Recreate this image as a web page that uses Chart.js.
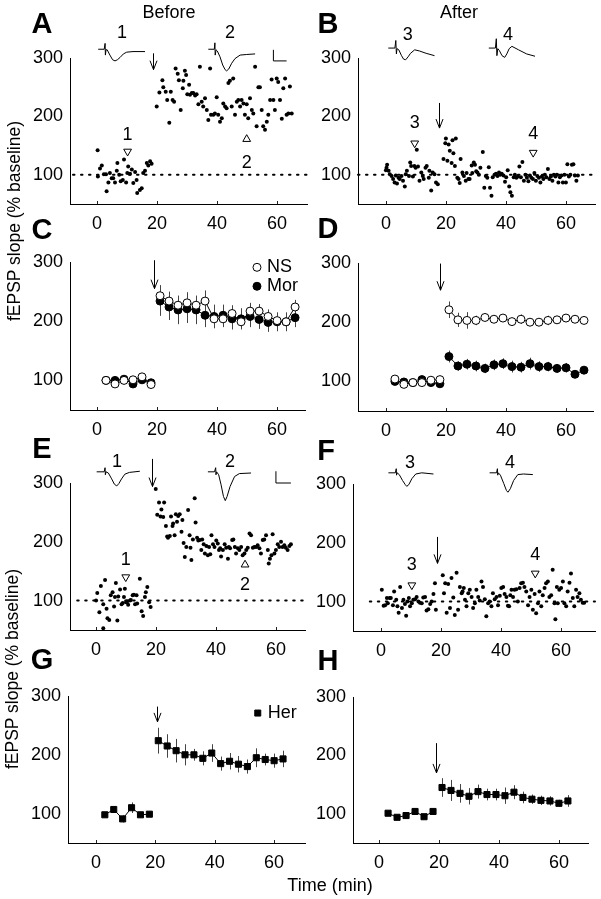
<!DOCTYPE html>
<html>
<head>
<meta charset="utf-8">
<script src="https://cdn.jsdelivr.net/npm/chart.js@4.4.1/dist/chart.umd.min.js"></script>
<style>
body { margin: 0; background: #fff; width: 601px; height: 899px; position: relative; overflow: hidden;
       font-family: "Liberation Sans", Arial, Helvetica, sans-serif; color: #000; }
canvas { position: absolute; left: 0; top: 0; }
.t { position: absolute; white-space: nowrap; transform: translate(-50%, -50%); line-height: 1; font-size: 18px; }
.lt { font-weight: bold; font-size: 29px; }
.rot { transform: translate(-50%, -50%) rotate(-90deg); font-size: 17.5px; }
</style>
</head>
<body>
<canvas id="cA" width="601" height="899"></canvas>
<canvas id="cB" width="601" height="899"></canvas>
<canvas id="cC" width="601" height="899"></canvas>
<canvas id="cD" width="601" height="899"></canvas>
<canvas id="cE" width="601" height="899"></canvas>
<canvas id="cF" width="601" height="899"></canvas>
<canvas id="cG" width="601" height="899"></canvas>
<canvas id="cH" width="601" height="899"></canvas>

<div class="t" style="left:169px;top:12px">Before</div>
<div class="t" style="left:459px;top:12px">After</div>
<div class="t lt" style="left:42px;top:23px">A</div>
<div class="t lt" style="left:328px;top:23px">B</div>
<div class="t lt" style="left:42px;top:229px">C</div>
<div class="t lt" style="left:328px;top:228px">D</div>
<div class="t lt" style="left:42px;top:448px">E</div>
<div class="t lt" style="left:326px;top:450px">F</div>
<div class="t lt" style="left:42px;top:659px">G</div>
<div class="t lt" style="left:328px;top:660px">H</div>
<div class="t rot" style="left:15px;top:221px">fEPSP slope (% baseline)</div>
<div class="t rot" style="left:13px;top:669px">fEPSP slope (% baseline)</div>
<div class="t" style="left:330px;top:885px">Time (min)</div>

<script>
// ---- data (minutes, % baseline) ----
const xTicks = [0, 20, 40, 60];
const yTicks = [100, 200, 300];

// A: single experiment, before
const aTime = [0.2,0.3,1.0,1.6,2.3,3.0,3.2,3.8,4.3,4.9,5.4,6.0,6.6,6.8,7.4,7.9,8.6,9.0,9.7,10.1,10.4,11.0,11.6,12.1,12.7,13.2,13.4,14.3,14.9,15.4,16.0,16.6,17.1,17.7,18.2,
  19.9,20.8,21.8,22.1,22.9,23.4,24.1,24.6,25.2,25.7,26.2,26.9,27.3,27.9,28.6,28.8,29.3,29.7,30.1,30.7,31.0,31.6,32.1,32.7,33.2,33.8,34.3,34.9,35.4,36.0,
  36.6,37.1,37.7,38.0,38.8,39.3,39.9,40.4,41.0,41.6,42.1,42.7,43.2,43.8,44.3,44.9,45.4,46.0,46.6,47.1,47.7,48.2,48.8,49.3,49.9,50.4,51.0,51.6,52.1,52.7,
  53.2,53.8,54.3,54.9,55.4,56.0,56.6,57.1,57.7,58.2,58.8,59.3,59.9,60.4,61.0,61.6,62.1,62.7,63.2,63.8,64.3,64.9];
const aSlope = [142,97,111,116,101,101,72,87,103,94,94,87,107,120,100,89,91,126,87,103,114,102,109,86,105,91,69,74,77,103,107,120,116,123,119,
  217,241,262,250,242,228,189,242,228,225,282,273,262,211,248,261,278,271,238,254,237,240,240,236,238,221,285,225,217,231,
  211,194,282,203,203,205,233,203,191,197,222,217,214,257,261,217,265,203,225,228,217,228,222,203,221,197,231,211,205,285,
  183,250,250,211,183,177,191,203,228,263,228,211,265,259,228,196,248,265,203,205,251,205];

// B: single experiment, after
const bTime = [0.0,0.2,0.4,0.9,1.3,1.9,2.4,2.9,3.3,3.7,4.2,4.6,5.2,5.7,6.3,6.6,7.0,7.7,8.1,8.4,9.0,9.5,9.9,10.3,10.7,11.2,11.8,12.3,12.6,13.2,13.6,14.3,14.5,15.1,15.6,16.2,16.7,17.3,
  19.2,19.8,20.0,20.5,20.9,21.3,21.9,22.2,22.5,23.0,23.3,23.8,24.2,24.6,24.9,25.5,26.0,26.6,26.9,27.5,27.9,28.6,28.8,29.3,29.7,30.1,
  30.5,31.0,31.5,32.3,32.8,33.3,33.8,34.3,34.7,35.2,35.6,36.2,36.7,37.2,37.7,38.1,38.6,39.2,39.7,40.1,40.6,41.1,41.5,42.0,42.6,43.0,43.5,44.0,44.5,45.0,
  45.5,46.0,46.5,47.0,47.5,48.0,48.5,49.0,49.5,50.0,50.5,51.0,51.5,52.0,52.5,53.0,53.5,54.0,54.5,55.0,55.5,56.0,56.5,57.0,57.5,58.0,58.5,59.0,59.5,60.0,
  60.5,61.0,61.5,62.0,62.5,63.0,63.5,64.0];
const bSlope = [108,112,117,107,101,98,93,87,99,85,95,93,98,90,80,101,107,98,121,115,97,115,112,143,114,90,104,98,93,112,115,95,107,73,104,101,87,84,
  127,154,162,124,152,141,120,159,137,115,162,95,93,86,127,104,98,90,103,93,93,116,103,121,117,106,
  104,100,112,139,78,98,95,113,78,64,96,100,102,98,104,100,102,99,88,96,108,80,70,64,96,100,95,97,114,96,
  122,90,100,95,89,99,95,93,103,90,98,95,87,97,93,100,96,110,93,97,90,100,97,100,87,96,99,87,100,87,
  118,97,100,117,118,99,90,99];

// C, D: group means every 3 min (NS vs Mor)
const cdTime = [3,6,9,12,15,18,21,24,27,30,33,36,39,42,45,48,51,54,57,60,63,66];
const cNS     = [100,94,100,101,106,93,243,234,227,231,227,234,204,204,213,199,217,217,208,201,199,224];
const cNSerr  = [3,3,3,3,3,3,18,16,16,18,16,18,14,14,14,12,14,12,12,12,12,12];
const cMor    = [100,100,102,94,101,96,234,224,219,221,219,210,208,210,204,204,208,203,198,199,199,206];
const cMorErr = [3,3,3,3,3,3,25,22,24,24,24,20,20,18,18,18,18,16,16,16,16,16];
const dNS     = [104,95,98,98,102,103,221,204,203,203,208,205,207,201,205,200,200,203,204,207,205,203];
const dNSerr  = [3,3,3,3,3,3,14,12,14,8,6,5,5,6,8,5,5,8,6,6,5,5];
const dMor    = [100,99,98,103,98,96,142,126,129,126,122,128,130,125,124,130,125,125,122,123,112,119];
const dMorErr = [3,3,3,3,3,3,10,8,9,9,8,9,9,10,9,10,9,8,7,8,6,6];

// E: single experiment, before (heroin group)
const eTime = [0.0,0.4,1.1,1.6,2.4,2.4,3.0,3.5,3.8,4.4,4.9,5.5,6.0,6.3,6.6,7.1,7.4,8.0,8.5,8.9,9.3,9.6,10.0,10.4,10.7,11.3,11.6,12.2,12.6,13.0,13.5,13.7,14.6,15.2,15.7,16.3,16.6,17.1,17.7,18.2,
  19.9,20.4,21.0,21.5,21.8,22.4,22.7,23.3,23.7,24.0,24.6,25.0,25.5,25.7,26.2,26.6,27.0,27.4,27.9,28.5,28.8,29.2,29.6,30.1,30.7,31.2,31.5,31.8,32.3,32.9,
  33.2,33.7,34.1,34.6,35.1,35.4,35.9,36.3,36.8,37.3,37.7,38.1,38.5,39.0,39.5,40.1,40.6,41.0,41.4,41.7,42.3,42.9,43.4,44.0,44.3,44.7,45.4,45.8,46.3,46.7,
  47.3,47.8,48.4,48.9,49.5,50.1,50.6,51.2,51.7,52.3,52.8,53.4,53.9,54.5,55.0,55.6,56.1,56.7,57.3,57.6,58.0,58.5,58.9,59.5,60.0,60.6,61.1,61.7,62.2,62.8,
  63.3,63.9,64.5,65.0];
const eSlope = [100,113,80,125,94,53,135,86,70,67,109,114,90,106,130,66,107,119,94,96,106,120,97,99,93,100,101,109,110,94,109,95,137,82,74,106,114,123,97,89,
  290,246,267,243,255,242,267,227,209,207,210,243,227,231,211,247,234,244,247,217,237,198,174,191,254,211,190,169,204,274,
  233,207,202,203,186,204,196,180,193,177,191,179,211,196,191,202,197,186,189,175,186,196,190,171,191,189,203,204,191,180,
  189,186,191,177,180,186,190,214,211,190,191,191,194,189,180,203,204,211,186,163,171,177,213,180,186,196,191,200,191,194,
  190,186,193,196];

// F: single experiment, after (heroin group)
const fTime = [0.3,0.9,1.4,2.0,2.3,2.9,3.3,4.0,4.4,5.1,5.5,5.9,6.4,7.0,7.5,8.0,8.4,8.8,9.3,9.7,10.3,10.8,11.4,11.9,12.5,13.0,13.6,14.1,14.7,15.2,15.8,16.4,16.9,17.5,18.0,18.3,
  20.6,21.0,21.4,21.9,22.4,23.0,23.5,24.1,24.6,25.2,25.7,26.3,26.9,27.2,27.6,28.0,28.5,29.1,29.6,30.2,30.7,31.3,31.8,32.4,32.9,33.5,34.0,34.6,35.1,35.7,
  36.2,36.8,37.3,37.9,38.5,39.0,39.6,40.1,40.7,41.2,41.8,42.3,42.7,43.1,43.5,44.0,44.5,45.1,45.6,46.2,46.7,47.3,47.8,48.4,49.0,49.5,50.1,50.6,51.2,51.7,
  52.3,52.8,53.4,53.9,54.5,55.0,55.6,56.1,56.7,57.2,57.8,58.1,58.6,58.9,59.4,60.0,60.6,61.1,61.7,62.2,62.8,63.3,63.9,64.4,65.0,65.5,66.1,66.6,67.2,67.7];
const fSlope = [120,93,94,106,97,106,106,94,117,103,92,81,125,89,103,96,76,100,106,92,97,103,104,108,100,98,97,107,108,85,87,96,100,113,131,86,
  145,114,131,81,130,89,140,107,77,149,86,125,114,117,123,103,92,114,120,108,89,97,120,108,102,134,125,104,75,97,
  100,92,114,104,108,94,110,123,125,113,108,93,92,111,120,108,120,121,100,123,131,132,125,117,94,108,120,86,113,80,
  97,117,92,111,123,131,134,108,111,154,97,70,125,97,120,123,134,97,92,117,132,148,106,92,120,108,114,103,98,98];

// G, H: heroin group means every 3 min
const ghTime  = [3,6,9,12,15,18,21,24,27,30,33,36,39,42,45,48,51,54,57,60,63];
const gHer    = [98,107,91,110,98,99,224,215,207,200,200,194,203,185,189,184,180,195,192,190,193];
const gHerErr = [4,5,6,9,4,4,22,20,20,18,10,12,15,12,14,14,12,16,10,12,14];
const hHer    = [101,94,97,104,95,104,145,140,135,130,138,133,133,131,137,128,125,123,122,118,122];
const hHerErr = [4,4,5,5,4,4,16,18,16,14,12,10,10,14,12,10,8,8,8,6,10];

// triangle markers (sample times) and their labels
const triDown = { A: [[10.2,140]], B: [[9.6,154],[49.1,138]], E: [[9.9,140]], F: [[10.3,128],[51.4,148]] };
const triUp   = { A: [[49.9,161]], E: [[49.7,161]] };
const triText = {
  A: [['1',10.2,168],['2',49.9,120],['1',8.3,343],['2',44.3,343]],
  B: [['3',9.6,189],['4',49.1,169],['3',7.3,339],['4',40.7,339]],
  E: [['1',9.9,169],['2',49.7,126],['1',7.0,336],['2',44.7,336]],
  F: [['3',10.3,162],['4',51.4,179],['3',9.7,336],['4',43.0,336]]
};
// tetanus arrows [x, yTop, yTip]
const arrows = { A:[18.7,308,280], B:[17.6,223,180], C:[18.9,303,255], D:[18.1,299,254],
                 E:[18.8,341,294], F:[18.6,210,165], G:[20.6,282,256], H:[18.9,221,170] };

// inset fEPSP traces, [min, value] in each panel's data units
const traceA1 = [[0.4,315],[2.4,315],[2.7,325],[2.8,305],[3,314],[3.4,314],[4.3,305],[5.2,297],[6,295],[6.8,297],[7.7,301],[8.8,307],[9.9,310],[12,311],[16,311]];
const traceA2 = [[37.1,315],[39.1,315],[39.3,326],[39.4,305],[39.7,314],[40.1,312],[41,302],[41.9,288],[42.7,280],[43.2,278],[43.9,281],[44.9,291],[46,299],[47.7,305],[49.9,306],[52.7,307]];
const traceB3 = [[0.8,317],[3,317],[3.3,330],[3.5,307],[3.7,316],[4.3,314],[5.2,304],[5.9,298],[6.6,297],[7.4,302],[8.2,308],[9.6,314],[11.2,312],[13.4,308],[16.2,304]];
const traceB4 = [[34.3,317],[36.5,317],[36.8,333],[37,304],[37.3,316],[37.8,313],[38.7,304],[39.6,301],[40.3,307],[41.1,316],[42,320],[44.2,314],[46.9,307],[49.7,303]];
const traceE1 = [[0.2,319],[2.7,319],[3,326],[3.1,314],[3.3,319],[4.1,317],[5.2,307],[6.1,298],[6.9,295],[7.6,299],[8.5,307],[9.6,315],[11.1,318],[14.6,320]];
const traceE2 = [[37.3,319],[39.5,319],[39.9,326],[40,314],[40.2,319],[40.9,314],[41.7,297],[42.5,277],[43.1,270],[43.7,277],[44.7,294],[46.2,311],[47.8,316],[51.7,317]];
const traceF3 = [[2.5,319],[4.8,319],[5.1,326],[5.2,315],[5.4,319],[6.1,316],[7.2,306],[8.1,299],[8.6,296],[9.3,299],[10.3,309],[11.6,317],[13.6,319],[17.5,317]];
const traceF4 = [[36.2,319],[38.5,319],[38.8,326],[38.9,315],[39.1,319],[39.8,315],[40.9,301],[41.8,289],[42.3,286],[43.1,292],[44.2,306],[45.6,316],[47.5,317],[50.6,316]];
const scaleBarA = [[58.8,314],[58.8,295],[63.2,295]];
const scaleBarE = [[60.0,320],[60.0,300],[65.0,300]];

const FONT = '"Liberation Sans", Arial, Helvetica, sans-serif';
Chart.defaults.font.family = FONT;
Chart.defaults.color = '#000';

function pts(xs, ys) { return xs.map((x, i) => ({ x: x, y: ys[i] })); }

// draws error bars, arrows, insets, labels and legend using the chart scales
const extras = {
  id: 'extras',
  beforeDatasetsDraw(chart) {
    const { ctx, scales: { x, y } } = chart;
    ctx.save();
    ctx.strokeStyle = '#444';
    ctx.lineWidth = 1;
    chart.data.datasets.forEach(ds => {
      if (!ds.errs) return;
      ds.data.forEach((p, i) => {
        const px = Math.round(x.getPixelForValue(p.x)) + 0.5;
        ctx.beginPath();
        ctx.moveTo(px, y.getPixelForValue(p.y - ds.errs[i]));
        ctx.lineTo(px, y.getPixelForValue(p.y + ds.errs[i]));
        ctx.stroke();
      });
    });
    ctx.restore();
  },
  afterDatasetsDraw(chart, args, opts) {
    const { ctx, scales: { x, y } } = chart;
    ctx.save();
    // small inward ticks on the time axis
    ctx.strokeStyle = '#222';
    ctx.lineWidth = 1;
    xTicks.forEach(v => {
      const px = Math.round(x.getPixelForValue(v)) + 0.5;
      ctx.beginPath(); ctx.moveTo(px, y.bottom); ctx.lineTo(px, y.bottom - 3); ctx.stroke();
    });
    ctx.strokeStyle = '#000';
    (opts.lines || []).forEach(tr => {
      ctx.beginPath();
      tr.forEach((p, i) => {
        const px = x.getPixelForValue(p[0]), py = y.getPixelForValue(p[1]);
        if (i === 0) ctx.moveTo(px, py); else ctx.lineTo(px, py);
      });
      ctx.stroke();
    });
    if (opts.arrow) {
      const a = opts.arrow;
      const px = Math.round(x.getPixelForValue(a[0])) + 0.5;
      const p1 = y.getPixelForValue(a[1]), p2 = y.getPixelForValue(a[2]);
      ctx.beginPath();
      ctx.moveTo(px, p1); ctx.lineTo(px, p2);
      ctx.moveTo(px - 3.5, p2 - 9); ctx.lineTo(px, p2); ctx.lineTo(px + 3.5, p2 - 9);
      ctx.stroke();
    }
    ctx.fillStyle = '#000';
    ctx.font = '18px ' + FONT;
    ctx.textAlign = 'center';
    ctx.textBaseline = 'middle';
    (opts.texts || []).forEach(t => {
      ctx.fillText(t[0], x.getPixelForValue(t[1]), y.getPixelForValue(t[2]));
    });
    (opts.legend || []).forEach(l => {
      const px = x.getPixelForValue(l.x), py = y.getPixelForValue(l.y);
      ctx.beginPath();
      if (l.style === 'rect') ctx.rect(px - 3, py - 3, 6, 6);
      else ctx.arc(px, py, 4, 0, Math.PI * 2);
      ctx.fillStyle = l.open ? '#fff' : '#000';
      ctx.fill();
      ctx.stroke();
      ctx.fillStyle = '#000';
      ctx.textAlign = 'left';
      ctx.fillText(l.text, px + 10, py);
    });
    ctx.restore();
  }
};

const gap = { borderColor: c => (c.p0.parsed.x < 19.5 && c.p1.parsed.x > 19.5) ? 'rgba(0,0,0,0)' : undefined };

function dots(xs, ys) {
  return { data: pts(xs, ys), pointRadius: 2, pointBackgroundColor: '#000', pointBorderWidth: 0, showLine: false };
}
function meanSeries(xs, ys, es, open, style) {
  return {
    data: pts(xs, ys), errs: es, showLine: true, borderColor: '#000', borderWidth: 1, segment: gap,
    pointStyle: style, pointRadius: style === 'rect' ? 4.3 : 4, pointBorderWidth: 1,
    pointBackgroundColor: open ? '#fff' : '#000', pointBorderColor: '#000'
  };
}
function dotted(x0, x1) {
  return { data: [{ x: x0, y: 100 }, { x: x1, y: 100 }], showLine: true, borderColor: '#000', borderWidth: 2,
           borderDash: [1.5, 6.5], borderCapStyle: 'round', pointRadius: 0, clip: false };
}
function triangles(list, down) {
  return { data: (list || []).map(p => ({ x: p[0], y: p[1] })), showLine: false, pointStyle: 'triangle',
           rotation: down ? 180 : 0, pointRadius: 4.5, pointBackgroundColor: '#fff', pointBorderColor: '#000', pointBorderWidth: 1 };
}

function panel(id, box, xr, datasets, extra) {
  const yW = 50, xH = 40;
  new Chart(document.getElementById('c' + id), {
    type: 'scatter',
    data: { datasets: datasets },
    options: {
      responsive: false, animation: false, devicePixelRatio: 1,
      layout: { padding: { left: box[0] - yW, top: box[1], right: 601 - box[2], bottom: 899 - box[3] - xH } },
      plugins: { legend: { display: false }, tooltip: { enabled: false }, extras: extra },
      scales: {
        x: {
          type: 'linear', min: xr[0], max: xr[1],
          grid: { display: false, drawTicks: false }, border: { color: '#000', width: 1 },
          ticks: { font: { size: 18 }, color: '#000', padding: 9, maxRotation: 0 },
          afterBuildTicks: s => { s.ticks = xTicks.map(v => ({ value: v })); },
          afterFit: s => { s.height = xH; }
        },
        y: {
          min: 50, max: 300,
          grid: { display: false, drawTicks: false }, border: { color: '#000', width: 1 },
          ticks: { font: { size: 18 }, color: '#000', padding: 7 },
          afterBuildTicks: s => { s.ticks = yTicks.map(v => ({ value: v })); },
          afterFit: s => { s.width = yW; }
        }
      }
    },
    plugins: [extras]
  });
}

panel('A', [70, 58, 307, 204], [-9, 70],
  [dotted(-8, 70), dots(aTime, aSlope), triangles(triDown.A, true), triangles(triUp.A, false)],
  { arrow: arrows.A, texts: triText.A, lines: [traceA1, traceA2, scaleBarA] });
panel('B', [358, 58, 595, 204], [-9.3, 69.7],
  [dotted(-9.3, 69.7), dots(bTime, bSlope), triangles(triDown.B, true)],
  { arrow: arrows.B, texts: triText.B, lines: [traceB3, traceB4] });
panel('C', [70, 262, 305, 410], [-9, 69.3],
  [meanSeries(cdTime, cNS, cNSerr, true, 'circle'), meanSeries(cdTime, cMor, cMorErr, false, 'circle')],
  { arrow: arrows.C, legend: [{ x: 53.3, y: 291, text: 'NS', open: true }, { x: 53.3, y: 259, text: 'Mor', open: false }] });
panel('D', [358, 263, 593, 411], [-9.3, 69],
  [meanSeries(cdTime, dNS, dNSerr, true, 'circle'), meanSeries(cdTime, dMor, dMorErr, false, 'circle')],
  { arrow: arrows.D });
panel('E', [70, 483, 305, 630], [-8.7, 69.7],
  [dotted(-6.3, 69.7), dots(eTime, eSlope), triangles(triDown.E, true), triangles(triUp.E, false)],
  { arrow: arrows.E, texts: triText.E, lines: [traceE1, traceE2, scaleBarE] });
panel('F', [353, 484, 595, 631], [-9.3, 71.3],
  [dotted(-3.7, 71.3), dots(fTime, fSlope), triangles(triDown.F, true)],
  { arrow: arrows.F, texts: triText.F, lines: [traceF3, traceF4] });
panel('G', [68, 696, 305, 843], [-9.4, 70.4],
  [meanSeries(ghTime, gHer, gHerErr, false, 'rect')],
  { arrow: arrows.G, legend: [{ x: 54.5, y: 271, text: 'Her', style: 'rect' }] });
panel('H', [353, 697, 588, 843], [-8.7, 69.7],
  [meanSeries(ghTime, hHer, hHerErr, false, 'rect')],
  { arrow: arrows.H });
</script>
</body>
</html>
